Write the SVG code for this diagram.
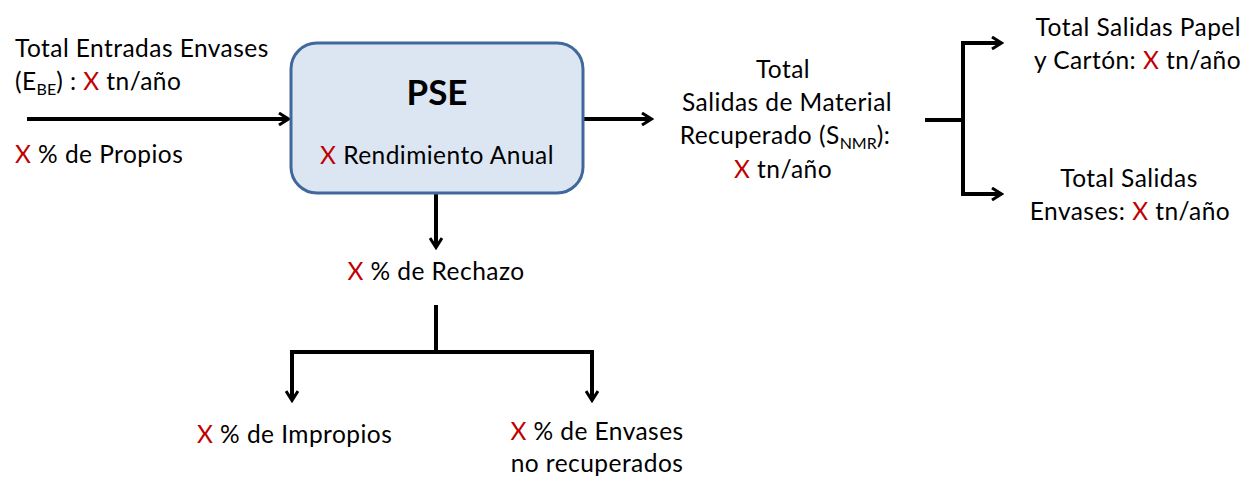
<svg xmlns="http://www.w3.org/2000/svg" width="1247" height="477" viewBox="0 0 1247 477">
<defs>
<style>
text{font-family:Lato,"Open Sans","Liberation Sans",sans-serif;font-size:24.5px;letter-spacing:0.45px;fill:#000}
.r{fill:#c00000}
.c{text-anchor:middle}
.e{text-anchor:end}
.s{font-size:16px;letter-spacing:0}
.ln{fill:none;stroke:#000;stroke-width:4}
</style>
<marker id="ah" markerWidth="14" markerHeight="14" refX="11" refY="7" orient="auto" markerUnits="userSpaceOnUse" viewBox="0 0 14 14">
<path d="M2,1 L11.5,7 L2,13" fill="none" stroke="#000" stroke-width="3"/>
</marker>
</defs>
<rect width="1247" height="477" fill="#fff"/>
<g id="connectors">
<line class="ln" x1="27" y1="119" x2="288" y2="119" marker-end="url(#ah)"/>
<line class="ln" x1="583" y1="119" x2="651" y2="119" marker-end="url(#ah)"/>
<polyline class="ln" points="925,120 963,120"/>
<polyline class="ln" points="1001,43 963,43 963,194 1001,194"/>
<line class="ln" x1="963" y1="43" x2="1001" y2="43" marker-end="url(#ah)"/>
<line class="ln" x1="963" y1="194" x2="1001" y2="194" marker-end="url(#ah)"/>
<line class="ln" x1="436" y1="193" x2="436" y2="247" marker-end="url(#ah)"/>
<line class="ln" x1="436" y1="305" x2="436" y2="352"/>
<polyline class="ln" points="292,399 292,352 592,352 592,399"/>
<line class="ln" x1="292" y1="352" x2="292" y2="400" marker-end="url(#ah)"/>
<line class="ln" x1="592" y1="352" x2="592" y2="400" marker-end="url(#ah)"/>
</g>
<g id="pse">
<rect x="291" y="43" width="292" height="150" rx="26" fill="#dce6f2" stroke="#41689a" stroke-width="3"/>
<text x="437" y="105" class="c" style="font-weight:bold;font-size:35px;letter-spacing:0">PSE</text>
<text x="437" y="164" class="c"><tspan class="r">X</tspan> Rendimiento Anual</text>
</g>
<g id="entrada">
<text x="15" y="57">Total Entradas Envases</text>
<text x="15" y="90">(E<tspan dy="5" class="s">BE</tspan><tspan dy="-5">) : </tspan><tspan class="r">X</tspan> tn/año</text>
<text x="15" y="163"><tspan class="r">X</tspan> % de Propios</text>
</g>
<g id="salida">
<text x="783" y="78" class="c">Total</text>
<text x="787" y="111" class="c">Salidas de Material</text>
<text x="785" y="144" class="c">Recuperado (S<tspan dy="5" class="s">NMR</tspan><tspan dy="-5">):</tspan></text>
<text x="783" y="178" class="c"><tspan class="r">X</tspan> tn/año</text>
</g>
<g id="papel">
<text x="1241" y="36" class="e">Total Salidas Papel</text>
<text x="1241" y="69" class="e">y Cartón: <tspan class="r">X</tspan> tn/año</text>
</g>
<g id="envases">
<text x="1129" y="187" class="c">Total Salidas</text>
<text x="1130" y="220" class="c">Envases: <tspan class="r">X</tspan> tn/año</text>
</g>
<g id="rechazo">
<text x="436" y="280" class="c"><tspan class="r">X</tspan> % de Rechazo</text>
</g>
<g id="impropios">
<text x="197" y="443"><tspan class="r">X</tspan> % de Impropios</text>
</g>
<g id="noRecuperados">
<text x="597" y="440" class="c"><tspan class="r">X</tspan> % de Envases</text>
<text x="597" y="472" class="c">no recuperados</text>
</g>
</svg>
